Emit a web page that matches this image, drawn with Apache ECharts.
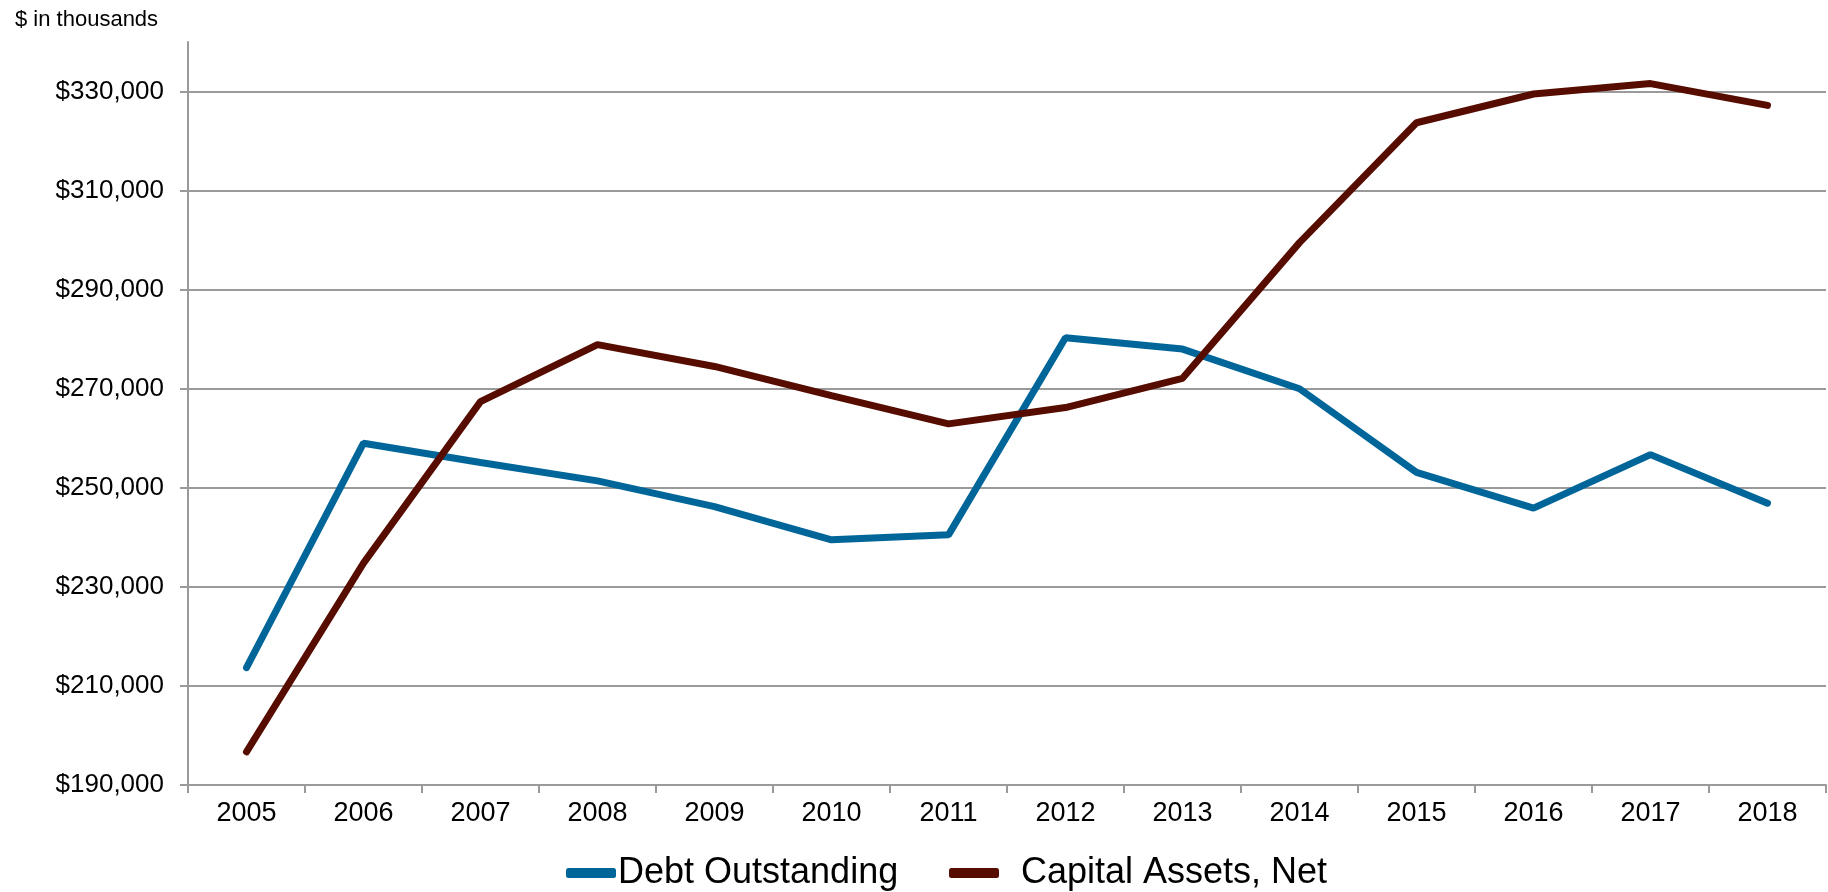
<!DOCTYPE html>
<html>
<head>
<meta charset="utf-8">
<title>Debt Outstanding vs Capital Assets, Net</title>
<script src="https://cdn.jsdelivr.net/npm/echarts@6/dist/echarts.min.js"></script>
<style>
  html, body { margin: 0; padding: 0; background: #ffffff; }
  #chart { width: 1828px; height: 892px; }
</style>
</head>
<body>
<div id="chart"></div>
<script>
// Fiscal years on the category axis
const years = ['2005', '2006', '2007', '2008', '2009', '2010', '2011',
               '2012', '2013', '2014', '2015', '2016', '2017', '2018'];

// Values in $ thousands
const debtOutstanding = [213700, 259000, 255100, 251400, 246200, 239500, 240500,
                         280300, 278000, 270000, 253100, 245900, 256700, 246900];
const capitalAssetsNet = [196700, 234800, 267400, 278900, 274500, 268600, 262900,
                          266200, 272100, 299500, 323700, 329500, 331600, 327200];

// Labelled ticks on the value axis
const yTicks = [190000, 210000, 230000, 250000, 270000, 290000, 310000, 330000];
const yMin = 190000;
const yMax = 340000;

const seriesNames = ['Debt Outstanding', 'Capital Assets, Net'];
const seriesColors = ['#006699', '#570c00'];

const FONT = '"Liberation Sans", Arial, Helvetica, sans-serif';
const AXIS_GREY = '#9a9a9a';

const chart = echarts.init(document.getElementById('chart'), null, { renderer: 'canvas' });

const fmtDollar = v => '$' + Number(v).toLocaleString('en-US');

chart.setOption({
  animation: false,
  backgroundColor: '#ffffff',
  textStyle: { fontFamily: FONT, color: '#000000' },
  title: {
    text: '$ in thousands',
    left: 10,
    top: 4,
    textStyle: { fontFamily: FONT, fontSize: 22, fontWeight: 'normal', color: '#000000' }
  },
  legend: [
    {
      data: [seriesNames[0]],
      left: 566,
      top: 855,
      padding: 0,
      icon: 'roundRect',
      itemWidth: 50,
      itemHeight: 10,
      textStyle: { fontFamily: FONT, fontSize: 36, color: '#000000', padding: [0, 0, 0, -3] }
    },
    {
      data: [seriesNames[1]],
      left: 949,
      top: 855,
      padding: 0,
      icon: 'roundRect',
      itemWidth: 50,
      itemHeight: 10,
      textStyle: { fontFamily: FONT, fontSize: 36, color: '#000000', padding: [0, 0, 0, 17] }
    }
  ],
  grid: {
    left: 188,
    right: 2,
    top: 42,
    bottom: 107,
    containLabel: false
  },
  xAxis: {
    type: 'category',
    data: years,
    boundaryGap: true,
    axisLine: { show: true, lineStyle: { color: AXIS_GREY, width: 2 } },
    axisTick: { show: true, length: 8, interval: 0, alignWithLabel: false,
                lineStyle: { color: AXIS_GREY, width: 2 } },
    axisLabel: { fontFamily: FONT, fontSize: 27, color: '#000000', margin: 15, interval: 0 },
    splitLine: { show: false }
  },
  yAxis: {
    type: 'value',
    min: yMin,
    max: yMax,
    axisLine: { show: true, lineStyle: { color: AXIS_GREY, width: 2 } },
    axisTick: { show: true, length: 8, customValues: yTicks,
                lineStyle: { color: AXIS_GREY, width: 2 } },
    axisLabel: { fontFamily: FONT, fontSize: 26, color: '#000000', margin: 24,
                 customValues: yTicks, formatter: fmtDollar },
    splitLine: { show: true, lineStyle: { color: AXIS_GREY, width: 2 } }
  },
  series: [
    {
      name: seriesNames[0],
      type: 'line',
      data: debtOutstanding,
      showSymbol: false,
      symbol: 'none',
      color: seriesColors[0],
      lineStyle: { color: seriesColors[0], width: 7, cap: 'round' },
      z: 3
    },
    {
      name: seriesNames[1],
      type: 'line',
      data: capitalAssetsNet,
      showSymbol: false,
      symbol: 'none',
      color: seriesColors[1],
      lineStyle: { color: seriesColors[1], width: 7, cap: 'round' },
      z: 4
    }
  ]
});
</script>
</body>
</html>
